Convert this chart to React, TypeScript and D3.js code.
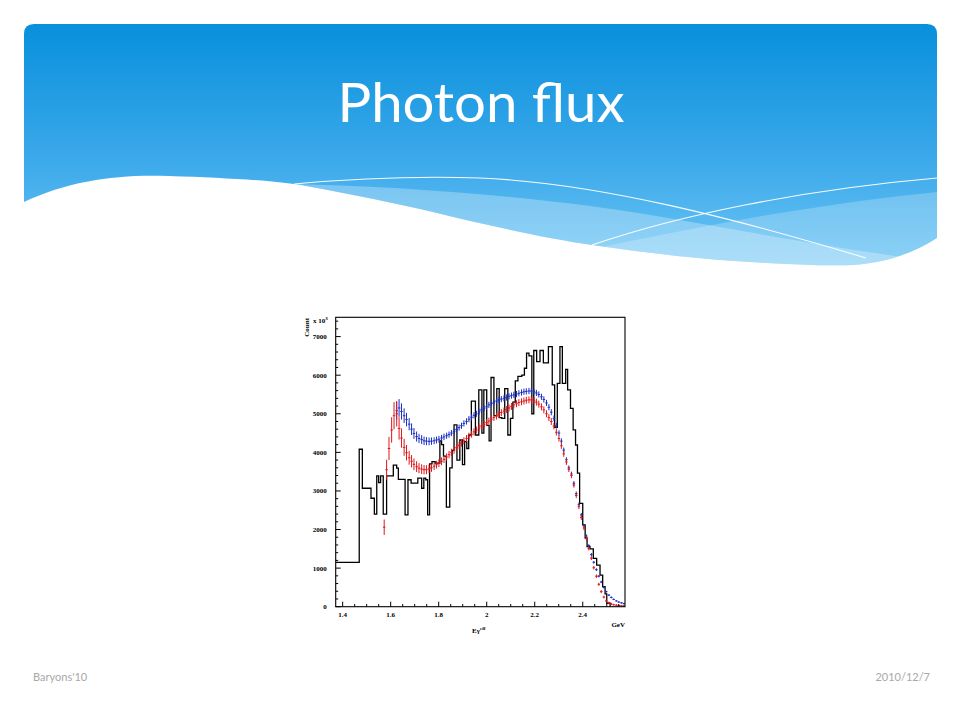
import React from 'react';
import * as d3 from 'd3';

// ---- Data ----
const histEdges = [1.371, 1.469, 1.482, 1.518, 1.532, 1.542, 1.550, 1.558, 1.569, 1.583, 1.611, 1.625, 1.632, 1.660, 1.672, 1.685, 1.713, 1.729, 1.738, 1.746, 1.754, 1.762, 1.772, 1.785, 1.805, 1.812, 1.820, 1.832, 1.846, 1.856, 1.864, 1.876, 1.888, 1.899, 1.908, 1.917, 1.925, 1.936, 1.953, 1.967, 1.980, 1.988, 2.000, 2.010, 2.018, 2.030, 2.042, 2.052, 2.063, 2.075, 2.088, 2.099, 2.109, 2.119, 2.130, 2.146, 2.157, 2.166, 2.176, 2.188, 2.196, 2.208, 2.222, 2.236, 2.257, 2.273, 2.283, 2.294, 2.305, 2.315, 2.329, 2.337, 2.349, 2.360, 2.370, 2.378, 2.387, 2.400, 2.410, 2.418, 2.430, 2.444, 2.458, 2.472, 2.483, 2.493, 2.500, 2.514];
const histCounts = [1150, 4080, 3070, 2810, 2400, 3390, 3215, 3390, 2400, 3390, 3670, 3590, 3300, 2380, 3290, 3200, 3330, 3070, 3330, 3290, 2380, 3700, 3760, 3720, 4300, 4200, 3900, 2580, 3600, 4050, 4710, 3800, 4320, 3680, 4280, 4100, 4450, 5330, 4450, 5620, 4500, 5620, 4700, 4300, 5940, 4950, 5650, 4900, 4880, 5650, 4450, 4880, 5300, 5850, 5970, 6000, 6180, 6570, 6500, 5000, 6640, 6350, 6640, 6320, 6740, 5750, 4650, 5790, 6740, 5790, 6150, 5620, 5140, 4580, 4190, 3460, 2680, 2120, 1780, 1560, 1500, 1250, 1080, 820, 520, 330, 90];

const photonE = [1.573, 1.583, 1.593, 1.604, 1.614, 1.625, 1.635, 1.645, 1.656, 1.666, 1.677, 1.687, 1.697, 1.708, 1.718, 1.729, 1.739, 1.749, 1.760, 1.770, 1.781, 1.791, 1.801, 1.812, 1.822, 1.833, 1.843, 1.853, 1.864, 1.874, 1.885, 1.895, 1.905, 1.916, 1.926, 1.937, 1.947, 1.957, 1.968, 1.978, 1.989, 1.999, 2.009, 2.020, 2.030, 2.041, 2.051, 2.061, 2.072, 2.082, 2.093, 2.103, 2.113, 2.124, 2.134, 2.145, 2.155, 2.165, 2.176, 2.186, 2.197, 2.207, 2.217, 2.228, 2.238, 2.249, 2.259, 2.269, 2.280, 2.290, 2.301, 2.311, 2.321, 2.332, 2.342, 2.353, 2.363, 2.373, 2.384, 2.394, 2.405, 2.415, 2.425, 2.436, 2.446, 2.457, 2.467, 2.477, 2.488, 2.498, 2.509, 2.519, 2.529, 2.540, 2.550, 2.561, 2.571];

const redFlux = [2060, 3550, 4100, 4580, 4950, 5000, 4620, 4370, 4130, 3990, 3860, 3770, 3690, 3630, 3590, 3565, 3550, 3550, 3570, 3600, 3640, 3680, 3720, 3770, 3820, 3880, 3940, 4000, 4060, 4120, 4180, 4240, 4300, 4360, 4420, 4470, 4530, 4580, 4630, 4680, 4720, 4770, 4810, 4860, 4900, 4940, 4980, 5030, 5070, 5110, 5150, 5190, 5230, 5260, 5290, 5310, 5330, 5350, 5360, 5360, 5340, 5300, 5250, 5180, 5100, 5000, 4900, 4800, 4680, 4520, 4360, 4170, 3960, 3750, 3560, 3400, 3150, 2880, 2590, 2310, 2040, 1770, 1510, 1260, 1010, 790, 580, 390, 250, 150, 100, 70, 50, 40, 30, 25, 20];
const redErr = [200, 260, 300, 330, 350, 330, 290, 250, 220, 200, 180, 160, 150, 140, 130, 125, 120, 115, 110, 105, 100, 100, 100, 100, 95, 95, 95, 95, 95, 95, 90, 90, 90, 90, 90, 90, 90, 90, 90, 90, 90, 90, 90, 90, 90, 90, 90, 90, 90, 90, 90, 90, 90, 90, 90, 90, 90, 90, 90, 90, 90, 90, 90, 90, 90, 90, 90, 90, 85, 85, 80, 80, 75, 75, 70, 70, 65, 65, 60, 60, 55, 55, 50, 50, 45, 45, 40, 40, 35, 35, 30, 30, 25, 25, 20, 20, 20];

const blueFlux = [null, null, null, null, null, 5080, 5150, 5060, 4950, 4850, 4730, 4600, 4490, 4410, 4360, 4330, 4300, 4290, 4285, 4290, 4300, 4320, 4340, 4370, 4400, 4430, 4460, 4500, 4540, 4590, 4640, 4690, 4750, 4800, 4860, 4910, 4960, 5000, 5050, 5100, 5140, 5180, 5230, 5270, 5300, 5330, 5360, 5380, 5400, 5420, 5450, 5470, 5490, 5510, 5530, 5550, 5570, 5580, 5590, 5590, 5570, 5540, 5500, 5440, 5370, 5280, 5170, 5040, 4880, 4690, 4500, 4290, 4060, 3810, 3600, 3440, 3200, 2930, 2650, 2380, 2100, 1830, 1580, 1350, 1150, 960, 790, 640, 500, 390, 300, 240, 190, 150, 120, 100, 80];
const blueErr = [0, 0, 0, 0, 0, 230, 230, 210, 190, 175, 160, 150, 140, 130, 120, 115, 110, 105, 100, 95, 90, 90, 85, 85, 85, 80, 80, 80, 80, 80, 80, 80, 80, 80, 80, 80, 80, 80, 80, 80, 80, 80, 80, 80, 80, 80, 80, 80, 80, 80, 80, 80, 80, 80, 80, 80, 80, 80, 80, 80, 80, 80, 80, 80, 80, 80, 80, 80, 75, 75, 70, 70, 65, 65, 60, 60, 55, 55, 50, 50, 45, 45, 40, 40, 35, 35, 30, 30, 30, 25, 25, 25, 20, 20, 20, 20, 20];

const yTickValues = [0, 1000, 2000, 3000, 4000, 5000, 6000, 7000];
const xTickValues = [1.4, 1.6, 1.8, 2.0, 2.2, 2.4];
const xTickLabels = ['1.4', '1.6', '1.8', '2', '2.2', '2.4'];

const TITLE = 'Photon flux';
const FOOT_LEFT = "Baryons'10";
const FOOT_RIGHT = '2010/12/7';

const RED = '#e0161b';
const BLUE = '#1a2ec4';

export default function App() {
  const x = d3.scaleLinear().domain([1.371, 2.576]).range([335.7, 625]);
  const y = d3.scaleLinear().domain([0, 7500]).range([606.7, 317.3]);
  const [x0, x1] = x.range();
  const [yb, yt] = y.range();

  // histogram step path
  let hist = `M${x(histEdges[0])},${y(histCounts[0])}`;
  for (let i = 0; i < histCounts.length; i++) {
    hist += `H${x(histEdges[i + 1])}`;
    if (i + 1 < histCounts.length) hist += `V${y(histCounts[i + 1])}`;
    else hist += `V${y(0)}`;
  }

  const halfW = 0.0052;
  const errMarks = (vals: (number | null)[], errs: number[], color: string, key: string) =>
    photonE.map((e, i) => {
      const v = vals[i];
      if (v == null) return null;
      const er = errs[i];
      return (
        <g key={key + i} stroke={color} strokeWidth={1}>
          <line x1={x(e - halfW)} x2={x(e + halfW)} y1={y(v)} y2={y(v)} />
          <line x1={x(e)} x2={x(e)} y1={y(v - er)} y2={y(v + er)} />
        </g>
      );
    });

  const xMinor = d3.range(1.4, 2.576, 0.05);
  const yMinor = d3.range(0, 7500, 200);

  const headerTop = 'M24,34 Q24,24 34,24 H927 Q937,24 937,34 V238';
  const waveEdge =
    'C915,252 890,262 854,265 C820,266 780,264 735,261 C690,258 640,252 592,245 C545,238 490,226 437,213 C395,203 350,194 306,186 C280,181 230,178 169,176 C120,174 70,180 24,202 Z';
  const headerPath = headerTop + ' ' + waveEdge;

  return (
    <svg width={960} height={720} style={{ position: 'fixed', left: 0, top: 0, background: '#fff' }}>
      <defs>
        <linearGradient id="hdr" x1="0" y1="24" x2="0" y2="265" gradientUnits="userSpaceOnUse">
          <stop offset="0" stopColor="#0890dc" />
          <stop offset="0.55" stopColor="#3aa8ea" />
          <stop offset="1" stopColor="#6cc5f4" />
        </linearGradient>
        <clipPath id="hdrClip">
          <path d={headerPath} />
        </clipPath>
        <clipPath id="plotClip">
          <rect x={x0} y={yt} width={x1 - x0} height={yb - yt} />
        </clipPath>
      </defs>
      <rect x={0} y={0} width={960} height={720} fill="#ffffff" />

      {/* header */}
      <path d={headerPath} fill="url(#hdr)" />
      <g clipPath="url(#hdrClip)">
        <path d="M282,184 C420,186 560,200 650,215 C740,230 820,246 937,262 V280 H282 Z" fill="#ffffff" opacity={0.28} />
        <path d="M560,256 C680,230 800,206 937,192 V280 H560 Z" fill="#ffffff" opacity={0.22} />
      </g>
      <path d="M294,184 C360,178 420,176 480,178 C600,183 740,220 866,258" fill="none" stroke="#ffffff" strokeWidth={1.1} opacity={0.95} />
      <path d="M592,245 C680,215 800,190 937,178" fill="none" stroke="#ffffff" strokeWidth={1.1} opacity={0.95} />

      <text x={481} y={122} textAnchor="middle" fill="#ffffff" fontFamily="Lato, 'Open Sans', sans-serif" fontSize={55} textLength={287} lengthAdjust="spacingAndGlyphs">
        {TITLE}
      </text>

      {/* plot */}
      <g clipPath="url(#plotClip)">
        <path d={hist} fill="none" stroke="#000" strokeWidth={1.3} />
        {errMarks(blueFlux, blueErr, BLUE, 'b')}
        {errMarks(redFlux, redErr, RED, 'r')}
      </g>
      <rect x={x0} y={yt} width={x1 - x0} height={yb - yt} fill="none" stroke="#000" strokeWidth={1.1} />

      {/* ticks */}
      <g stroke="#000" strokeWidth={1}>
        {yMinor.map((v) => (
          <line key={'ym' + v} x1={x0} x2={x0 + (v % 1000 === 0 ? 5 : 2.5)} y1={y(v)} y2={y(v)} />
        ))}
        {xMinor.map((v, i) => (
          <line key={'xm' + i} x1={x(v)} x2={x(v)} y1={yb} y2={yb - (i % 4 === 0 ? 5 : 2.7)} />
        ))}
      </g>
      <g fontFamily="'Liberation Serif', serif" fontWeight="bold" fontSize={7} fill="#000">
        {yTickValues.map((v) => (
          <text key={'yl' + v} x={x0 - 9} y={y(v) + 2.4} textAnchor="end">
            {String(v)}
          </text>
        ))}
        {xTickValues.map((v, i) => (
          <text key={'xl' + i} x={x(v)} y={616.5} textAnchor="middle">
            {xTickLabels[i]}
          </text>
        ))}
        <text x={625} y={626.5} textAnchor="end">GeV</text>
        <text x={472} y={633}>
          Eγ<tspan dy={-3} fontSize={5}>eff</tspan>
        </text>
        <text transform="translate(309,318) rotate(-90)" textAnchor="end">Count</text>
        <text x={313} y={323}>
          x 10<tspan dy={-3} fontSize={5}>3</tspan>
        </text>
      </g>

      {/* footer */}
      <text x={33} y={681} fill="#a8a8a8" fontFamily="Lato, 'Open Sans', sans-serif" fontSize={11}>
        {FOOT_LEFT}
      </text>
      <text x={930} y={681} textAnchor="end" fill="#a8a8a8" fontFamily="Lato, 'Open Sans', sans-serif" fontSize={11}>
        {FOOT_RIGHT}
      </text>
    </svg>
  );
}
